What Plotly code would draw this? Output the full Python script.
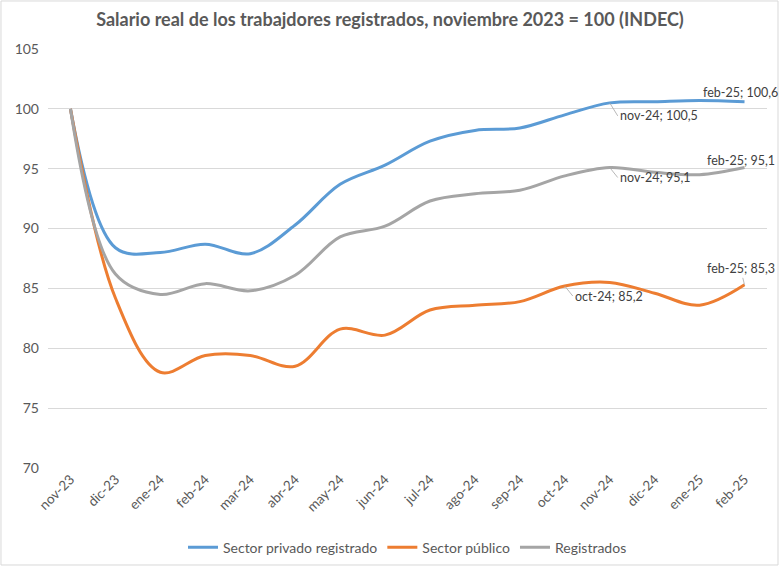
import plotly.graph_objects as go

meses = ["nov-23", "dic-23", "ene-24", "feb-24", "mar-24", "abr-24", "may-24", "jun-24",
         "jul-24", "ago-24", "sep-24", "oct-24", "nov-24", "dic-24", "ene-25", "feb-25"]
privado = [100, 88.4, 88.0, 88.7, 87.9, 90.3, 93.7, 95.3, 97.3, 98.2, 98.4, 99.5, 100.5, 100.6, 100.7, 100.6]
publico = [100, 84.2, 78.0, 79.4, 79.4, 78.5, 81.6, 81.1, 83.2, 83.6, 83.9, 85.2, 85.5, 84.6, 83.6, 85.3]
registrados = [100, 86.2, 84.5, 85.4, 84.8, 86.1, 89.3, 90.2, 92.3, 92.9, 93.2, 94.4, 95.1, 94.7, 94.5, 95.1]

FONT = "Lato"
fig = go.Figure()
series = [("Sector privado registrado", privado, "#5B9BD5"),
          ("Sector público", publico, "#ED7D31"),
          ("Registrados", registrados, "#A5A5A5")]
for name, vals, col in series:
    fig.add_trace(go.Scatter(x=meses, y=vals, name=name, mode="lines",
                             line=dict(color=col, width=3, shape="spline", smoothing=1.0)))

def lab(x, y, text, ax, ay, xanchor="left", yanchor="middle"):
    fig.add_annotation(x=x, y=y, text=text, showarrow=True, ax=ax, ay=ay,
                       xanchor=xanchor, yanchor=yanchor, arrowhead=0, arrowwidth=0.8,
                       arrowcolor="#A6A6A6", standoff=0, startstandoff=0,
                       font=dict(family=FONT, size=12.5, color="#404040"))

lab("nov-24", 100.5, "nov-24; 100,5", 8, 13)
lab("feb-25", 100.6, "feb-25; 100,6", -4, -9, xanchor="center")
lab("nov-24", 95.1, "nov-24; 95,1", 8, 10)
lab("feb-25", 95.1, "feb-25; 95,1", -4, -7, xanchor="center")
lab("oct-24", 85.2, "oct-24; 85,2", 8, 10)
lab("feb-25", 85.3, "feb-25; 85,3", -4, -16, xanchor="center")

# chart border
fig.add_shape(type="rect", xref="paper", yref="paper",
              x0=-0.0654, x1=1.0153, y0=-0.2315, y1=1.1146,
              line=dict(color="#D9D9D9", width=1), layer="below")

fig.update_layout(
    width=780, height=567,
    margin=dict(l=48, r=13, t=49, b=99, autoexpand=False),
    paper_bgcolor="white", plot_bgcolor="white",
    title=dict(text="<b>Salario real de los trabajdores registrados, noviembre 2023 = 100 (INDEC)</b>",
               x=0.5, xref="container", y=0.965, yref="container", yanchor="middle",
               font=dict(family=FONT, size=18, color="#595959")),
    font=dict(family=FONT, size=13, color="#595959"),
    showlegend=True,
    legend=dict(orientation="h", x=0.5, xanchor="center", y=-0.19, yanchor="middle",
                font=dict(family=FONT, size=14, color="#595959"), itemwidth=30),
    xaxis=dict(type="category", range=[-0.5, 15.5], tickangle=-45, showgrid=False,
               showline=False, ticks="", automargin=False,
               tickfont=dict(family=FONT, size=13.5, color="#595959")),
    yaxis=dict(range=[70, 105], dtick=5, showgrid=True, gridcolor="#D9D9D9", gridwidth=1,
               zeroline=False, showline=False, ticks="", ticklabelstandoff=8, automargin=False,
               tickfont=dict(family=FONT, size=14, color="#595959")),
)
fig.write_html("out.html")
